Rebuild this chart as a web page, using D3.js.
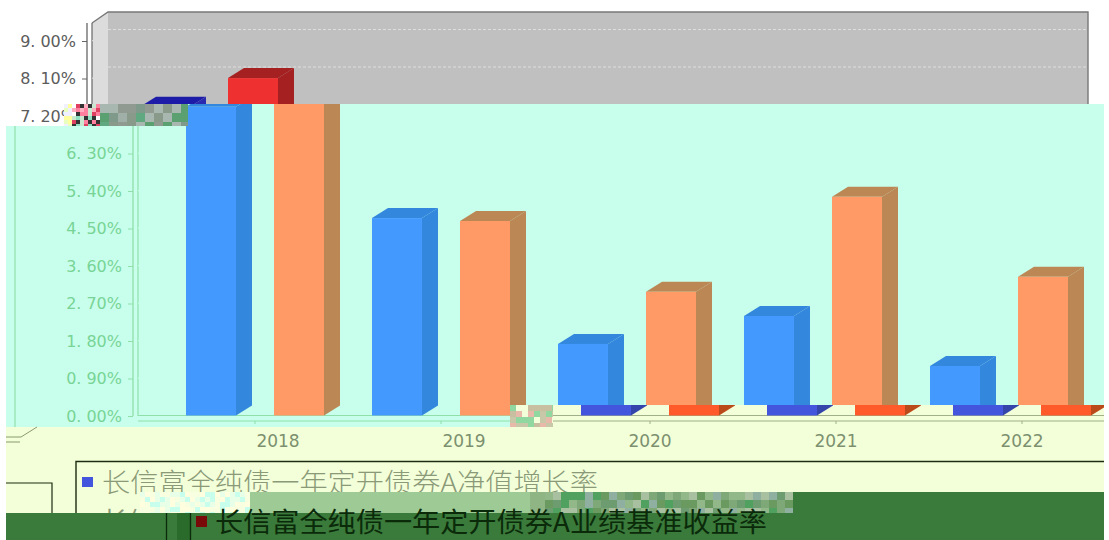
<!DOCTYPE html>
<html><head><meta charset="utf-8">
<script src="https://cdn.jsdelivr.net/npm/d3@7/dist/d3.min.js"></script>
<style>html,body{margin:0;padding:0;background:#fff}svg{display:block}</style>
</head><body><svg id="c" width="1109" height="540"></svg>
<script>
const categories = ["2018","2019","2020","2021","2022"];
const seriesNames = ["长信富全纯债一年定开债券A净值增长率","长信富全纯债一年定开债券A业绩基准收益率"];
const navGrowth = [7.42,4.75,1.73,2.40,1.20];
const benchmark = [8.11,4.68,2.98,5.26,3.34];
const yTicks = [0,0.9,1.8,2.7,3.6,4.5,5.4,6.3,7.2,8.1,9.0];

const svg = d3.select("#c");
const defs = svg.append("defs");
const W = 1104, depthX = 16, depthY = 11.5, barDepthY = 10;
const y = d3.scaleLinear().domain([0,9]).range([416,41]);
const x0 = d3.scaleBand().domain(categories).range([116,1046]);
const x1 = d3.scaleBand().domain([0,1]).range([24,162]).paddingInner(0.432);
const wallTop = 23;

function chart(g, p){
  // walls
  g.append("polygon").attr("points",`92,${wallTop} 108,12 108,405 92,416`).attr("fill",p.side);
  g.append("rect").attr("x",108).attr("y",12).attr("width",980).attr("height",393).attr("fill",p.wall);
  g.append("path").attr("d",`M92,${wallTop}L108,12H1088V405`).attr("fill","none").attr("stroke",p.border).attr("stroke-width",1.4);
  g.append("path").attr("d",`M92,${wallTop}V415.5H1072L1088,405`).attr("fill","none").attr("stroke",p.line).attr("stroke-width",1.2);
  // grid
  g.append("g").selectAll("line").data(yTicks.filter(d=>d>0)).join("line")
    .attr("x1",108).attr("x2",1087).attr("y1",d=>y(d)-depthY).attr("y2",d=>y(d)-depthY)
    .attr("stroke",p.grid).attr("stroke-dasharray","3 2");
  g.append("g").selectAll("line").data(yTicks.filter(d=>d>0)).join("line")
    .attr("x1",92).attr("x2",108).attr("y1",d=>y(d)).attr("y2",d=>y(d)-depthY)
    .attr("stroke",p.grid);
  // bars
  const drawBar = (v,cat,i,c)=>{
    const bx = x0(cat)+x1(i), bw = x1.bandwidth(), t = y(v), b = 415.5;
    g.append("polygon").attr("points",`${bx},${t} ${bx+depthX},${t-barDepthY} ${bx+bw+depthX},${t-barDepthY} ${bx+bw},${t}`).attr("fill",c[2]);
    g.append("polygon").attr("points",`${bx+bw},${t} ${bx+bw+depthX},${t-barDepthY} ${bx+bw+depthX},${b-barDepthY} ${bx+bw},${b}`).attr("fill",c[1]);
    g.append("rect").attr("x",bx).attr("y",t).attr("width",bw).attr("height",b-t).attr("fill",c[0]);
  };
  categories.forEach((cat,k)=>{
    drawBar(navGrowth[k],cat,0,p.s0);
    drawBar(benchmark[k],cat,1,p.s1);
  });
  // y axis: only the labels this band shows
  const ya = g.append("g").attr("transform","translate(87,0)")
    .call(d3.axisLeft(y).tickValues(yTicks.filter(p.showY)).tickFormat("").tickSize(5).tickPadding(6));
  ya.select(".domain").attr("d",`M0,${wallTop}V416`).attr("stroke",p.line).attr("stroke-width",1.3);
  ya.selectAll(".tick line").attr("stroke",p.line);
  ya.selectAll(".tick text").each(function(d){
    const s = d3.format(".2f")(d).split(".");
    const t = d3.select(this).attr("fill",p.text).attr("font-size",16).attr("font-family","'DejaVu Sans',sans-serif");
    t.append("tspan").text(s[0]+".");
    t.append("tspan").attr("dx",5).text(s[1]+"%");
  });
  // x axis
  const xa = g.append("g").attr("transform","translate(0,421)")
    .call(d3.axisBottom(x0).tickSize(3).tickPadding(11).tickFormat(p.showX ? (d=>d) : ""));
  xa.select(".domain").attr("d","M92,0H1072").attr("stroke",p.line).attr("stroke-width",1.2);
  xa.selectAll(".tick line").attr("stroke",p.line);
  xa.selectAll("text").attr("fill",p.xtext).attr("font-size",17).attr("font-family","'DejaVu Sans',sans-serif");
}

function band(id, clipPts, bg, pal, dx){
  defs.append("clipPath").attr("id",id).append("polygon").attr("points",clipPts.map(q=>q.join(",")).join(" "));
  const g = svg.append("g").attr("clip-path",`url(#${id})`);
  g.append("rect").attr("width",1109).attr("height",540).attr("fill",bg);
  const inner = g.append("g").attr("transform",`translate(${dx},0)`);
  chart(inner,pal);
  return g;
}

const truePal = {side:"#dcdcdc",wall:"#c0c0c0",border:"#777",line:"#666",grid:"#dedede",text:"#5c5c5c",xtext:"#5c5c5c",showX:false,showY:d=>d>=7,
  s0:["#3333cc","#2a2ab0","#1c1ca8"],s1:["#ee3030","#a52020","#a52020"]};
const mintPal = {side:"#c8ffec",wall:"#c8ffec",border:"#c8ffec",line:"#90dfaa",grid:"#c8ffec",text:"#78d496",xtext:"#78d496",showX:false,showY:d=>d<7,
  s0:["#4499ff","#3388dd","#3388dd"],s1:["#ff9966","#bb8855","#bb8855"]};
const yelPal = {side:"#f3ffd8",wall:"#f3ffd8",border:"#f3ffd8",line:"#a0b088",grid:"#f3ffd8",text:"#80946c",xtext:"#7c9070",showX:true,showY:d=>false,
  s0:["#4455dd","#3344aa","#3344aa"],s1:["#ff5a2a","#bb4a1a","#bb4a1a"]};

// top band (true colours)
band("b1",[[0,0],[W,0],[W,104],[188,104],[188,126],[0,126]],"#fff",truePal,0);
// yellow band
band("b3",[[6,405],[W,405],[W,513],[6,513]],"#f3ffd8",yelPal,69);
// mint band
const mg = band("b2",[[6,126],[188,126],[188,104],[W,104],[W,405],[553,405],[553,427],[6,427]],"#c8ffec",mintPal,46);
mg.append("line").attr("x1",15).attr("x2",15).attr("y1",126).attr("y2",427).attr("stroke","#90dfaa").attr("stroke-width",1.2);

// leftover wrapped floor edge
svg.append("path").attr("d","M37,427L21,437H6M6,442H20").attr("fill","none").attr("stroke","#8a9a70").attr("stroke-width",1);

// legend, first row
const fam = "'Noto Sans CJK SC',sans-serif";
svg.append("path").attr("d",`M76,513V461.5H${W}`).attr("fill","none").attr("stroke","#1c2c10").attr("stroke-width",1.4);
svg.append("path").attr("d","M6,483H52V513").attr("fill","none").attr("stroke","#1c2c10").attr("stroke-width",1.2);
svg.append("rect").attr("x",82).attr("y",477).attr("width",11).attr("height",10).attr("fill","#4455dd");
svg.append("text").attr("x",102).attr("y",492).attr("font-family",fam).attr("font-size",26).attr("font-weight",300)
  .attr("fill","#8a9a78").attr("textLength",496).attr("lengthAdjust","spacingAndGlyphs").text(seriesNames[0]);
defs.append("clipPath").attr("id","peek").append("rect").attr("x",76).attr("y",506).attr("width",300).attr("height",7);
svg.append("text").attr("x",102).attr("y",531).attr("clip-path","url(#peek)").attr("font-family",fam).attr("font-size",26)
  .attr("fill","#8a9a78").text(seriesNames[0].slice(0,2));

// light green strip
svg.append("rect").attr("x",250).attr("y",492).attr("width",320).attr("height",21).attr("fill","#9ecb95");
svg.append("rect").attr("x",530).attr("y",492).attr("width",263).attr("height",21).attr("fill","#8fb585");

// mosaic blocks left by the broken image
const mosaics = [
  {x:64,y:104,w:8,h:22,c:["#ffffa0","#e8ffc0","#f0f0ff"],s:4},
  {x:72,y:104,w:28,h:22,c:["#ffffff","#ff7f9f","#8fe0c0","#ffb0c0","#e04060","#c8e8d0","#333"],s:4},
  {x:100,y:104,w:88,h:22,c:["#a8b8b0","#8a9a8a","#7f9a8a","#a0b0a8","#909a90","#5aa070","#60a880"],s:9},
  {x:510,y:405,w:43,h:22,c:["#c8bea0","#e8b8a8","#90d8a0","#f3ffd8","#c8c8a8"],s:6},
  {x:140,y:492,w:110,h:21,c:["#f8ffe0","#e8ffe8","#ffffe0","#c8ffec"],s:5},
  {x:545,y:492,w:248,h:21,c:["#7fa878","#8fb0a0","#6c9c70","#a8c0a0","#6a9a60","#92b88a","#50a060"],s:8}
];
const hash=(a,b)=>{const t=Math.sin(a*12.9898+b*78.233)*43758.5453;return t-Math.floor(t);};
mosaics.forEach(m=>{
  for(let i=0;i<Math.ceil(m.w/m.s);i++)for(let j=0;j<Math.ceil(m.h/m.s);j++){
    const c=m.c[Math.floor(hash(i+m.x,j+m.y)*m.c.length)];
    svg.append("rect").attr("x",m.x+i*m.s).attr("y",m.y+j*m.s)
      .attr("width",Math.min(m.s,m.w-i*m.s)).attr("height",Math.min(m.s,m.h-j*m.s)).attr("fill",c);
  }
});

// dark band
svg.append("rect").attr("x",6).attr("y",513).attr("width",W-6).attr("height",27).attr("fill","#3a7a3a");
svg.append("rect").attr("x",793).attr("y",492).attr("width",W-793).attr("height",21).attr("fill","#3a7a3a");
svg.append("rect").attr("x",177).attr("y",513).attr("width",13).attr("height",27).attr("fill","#2a6a2a");
svg.append("path").attr("d","M166.5,513V540M190.5,513V540").attr("fill","none").attr("stroke","#0c2a0c").attr("stroke-width",1.3);
svg.append("rect").attr("x",196).attr("y",516).attr("width",11).attr("height",11).attr("fill","#7a0a0a");
svg.append("text").attr("x",215).attr("y",532).attr("font-family",fam).attr("font-size",27)
  .attr("fill","#0a2a0a").attr("textLength",552).attr("lengthAdjust","spacingAndGlyphs").text(seriesNames[1]);
</script></body></html>
